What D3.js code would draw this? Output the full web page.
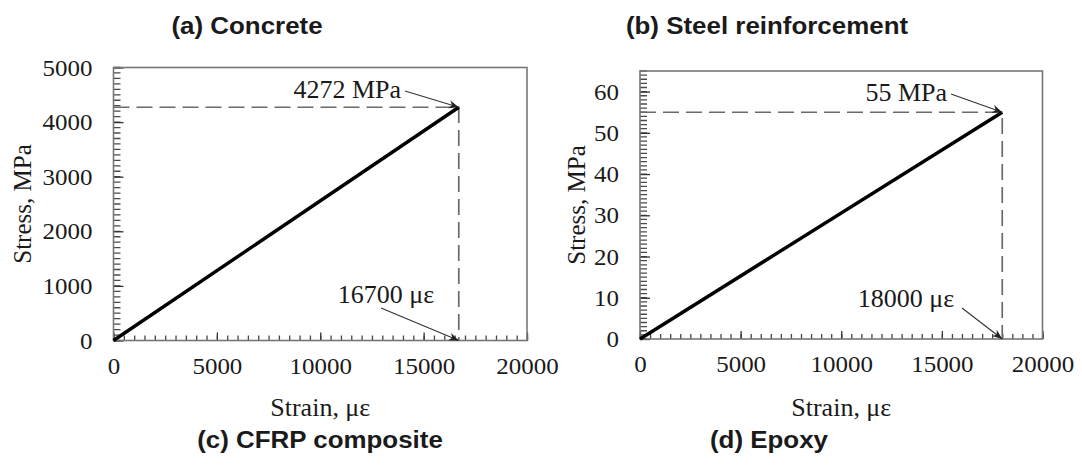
<!DOCTYPE html>
<html>
<head>
<meta charset="utf-8">
<script src="https://cdn.jsdelivr.net/npm/d3@7"></script>
<style>
  body { margin: 0; background: #fff; }
  svg { display: block; }
</style>
</head>
<body>
<svg id="chart" width="1082" height="466"></svg>
<script>
// Stress-strain data for the four materials (linear elastic up to failure)
const panelTitles = ["(a) Concrete", "(b) Steel reinforcement", "(c) CFRP composite", "(d) Epoxy"];
const ultimateStrain = [16700, 18000];          // με
const ultimateStress = [4272, 55];              // MPa
const strainTicks = [0, 5000, 10000, 15000, 20000];
const stressTicksLeft = [0, 1000, 2000, 3000, 4000, 5000];
const stressTicksRight = [0, 10, 20, 30, 40, 50, 60];
const stressLabels = ["4272 MPa", "55 MPa"];
const strainLabels = ["16700 με", "18000 με"];

const svg = d3.select("#chart");
const SERIF = "'Liberation Serif', 'Times New Roman', serif";
const SANS = "'Liberation Sans', Arial, sans-serif";
const WIDEN = 1.04;   // slight horizontal stretch of the serif lettering

// arrowhead marker
svg.append("defs").append("marker")
  .attr("id", "arrow")
  .attr("viewBox", "0 0 10 10")
  .attr("refX", 10).attr("refY", 5)
  .attr("markerWidth", 10).attr("markerHeight", 10)
  .attr("markerUnits", "userSpaceOnUse")
  .attr("orient", "auto")
  .append("path")
  .attr("d", "M0,1 L10,5 L0,9 L3,5 Z")
  .attr("fill", "#222");

function label(g, txt, x, y, opts) {
  const o = Object.assign({ size: 25, anchor: "middle", k: WIDEN, rotate: 0, family: SERIF, weight: "normal" }, opts || {});
  return g.append("text")
    .attr("transform", `translate(${x},${y}) scale(${o.k},1)` + (o.rotate ? ` rotate(${o.rotate})` : ""))
    .attr("text-anchor", o.anchor)
    .attr("font-family", o.family)
    .attr("font-weight", o.weight)
    .attr("font-size", o.size)
    .attr("fill", "#1a1a1a")
    .text(txt);
}

const panels = [
  { x0: 113.5, x1: 527, yTop: 67.5, yBot: 340.5, yMax: 5000, majorY: stressTicksLeft, minorY: 100,
    yTitleX: 31, stressLab: [401, 98], stressArrow: [405, 91], strainLab: [386, 303], strainArrow: [381, 308] },
  { x0: 640, x1: 1042.5, yTop: 71, yBot: 339, yMax: 65, majorY: stressTicksRight, minorY: 1,
    yTitleX: 585, stressLab: [947, 101], stressArrow: [951, 94], strainLab: [906, 307], strainArrow: [962, 308] }
];

panels.forEach((p, i) => {
  const g = svg.append("g");
  const x = d3.scaleLinear().domain([0, 20000]).range([p.x0, p.x1]);
  const y = d3.scaleLinear().domain([0, p.yMax]).range([p.yBot, p.yTop]);

  // minor ticks (inward)
  const minorX = d3.range(0, 20001, 500);
  const minorY = d3.range(0, Math.round(p.yMax / p.minorY) + 1).map(k => k * p.minorY);
  g.append("g").attr("transform", `translate(0,${p.yBot})`)
    .call(d3.axisBottom(x).tickValues(minorX).tickSize(-5).tickFormat(""))
    .call(a => { a.select(".domain").remove(); a.selectAll("line").attr("stroke", "#444").attr("stroke-width", 1.3); });
  g.append("path")
    .attr("d", minorY.map(v => `M${p.x0},${y(v)}h7`).join(""))
    .attr("stroke", "#4a4a4a").attr("stroke-width", 1.3).attr("fill", "none");

  // major ticks + labels
  const xa = g.append("g").attr("transform", `translate(0,${p.yBot})`)
    .call(d3.axisBottom(x).tickValues(strainTicks).tickSizeInner(-8).tickSizeOuter(0).tickPadding(16).tickFormat(d3.format("d")));
  const ya = g.append("g").attr("transform", `translate(${p.x0},0)`)
    .call(d3.axisLeft(y).tickValues(p.majorY).tickSizeInner(-10).tickSizeOuter(0).tickPadding(21).tickFormat(d3.format("d")));
  [xa, ya].forEach(a => {
    a.select(".domain").remove();
    a.selectAll("line").attr("stroke", "#333").attr("stroke-width", 1.3);
    a.selectAll("text")
      .attr("font-family", SERIF).attr("font-size", 24).attr("fill", "#1a1a1a")
      .each(function () {
        const t = d3.select(this);
        t.attr("x", (+t.attr("x") || 0) / WIDEN).attr("transform", `scale(${WIDEN},1)`);
      });
  });

  // frame
  g.append("rect")
    .attr("x", p.x0).attr("y", p.yTop)
    .attr("width", p.x1 - p.x0).attr("height", p.yBot - p.yTop)
    .attr("fill", "none").attr("stroke", "#777").attr("stroke-width", 1.6);

  const ex = x(ultimateStrain[i]), ey = y(ultimateStress[i]);

  // dashed guide lines to the failure point
  g.append("path")
    .attr("d", `M${p.x0},${ey} H${ex} V${p.yBot}`)
    .attr("fill", "none").attr("stroke", "#6a6a6a").attr("stroke-width", 1.7)
    .attr("stroke-dasharray", "16,7");

  // stress-strain line
  const line = d3.line().x(d => x(d[0])).y(d => y(d[1]));
  g.append("path")
    .datum([[0, 0], [ultimateStrain[i], ultimateStress[i]]])
    .attr("d", line)
    .attr("fill", "none").attr("stroke", "#000").attr("stroke-width", 3.4);

  // annotations
  label(g, stressLabels[i], p.stressLab[0], p.stressLab[1], { anchor: "end" });
  g.append("line")
    .attr("x1", p.stressArrow[0]).attr("y1", p.stressArrow[1]).attr("x2", ex).attr("y2", ey)
    .attr("stroke", "#333").attr("stroke-width", 1.1).attr("marker-end", "url(#arrow)");
  label(g, strainLabels[i], p.strainLab[0], p.strainLab[1]);
  g.append("line")
    .attr("x1", p.strainArrow[0]).attr("y1", p.strainArrow[1]).attr("x2", ex).attr("y2", p.yBot)
    .attr("stroke", "#333").attr("stroke-width", 1.1).attr("marker-end", "url(#arrow)");

  // axis titles
  label(g, "Strain, με", (p.x0 + p.x1) / 2, 416);
  label(g, "Stress, MPa", p.yTitleX, (p.yTop + p.yBot) / 2, { rotate: -90, k: 1 });
});

// panel captions
label(svg, panelTitles[0], 247, 34, { family: SANS, weight: "bold", size: 24, k: 1.08 });
label(svg, panelTitles[1], 767, 34, { family: SANS, weight: "bold", size: 24, k: 1.08 });
label(svg, panelTitles[2], 320, 448, { family: SANS, weight: "bold", size: 24, k: 1.08 });
label(svg, panelTitles[3], 769, 448, { family: SANS, weight: "bold", size: 24, k: 1.08 });
</script>
</body>
</html>
